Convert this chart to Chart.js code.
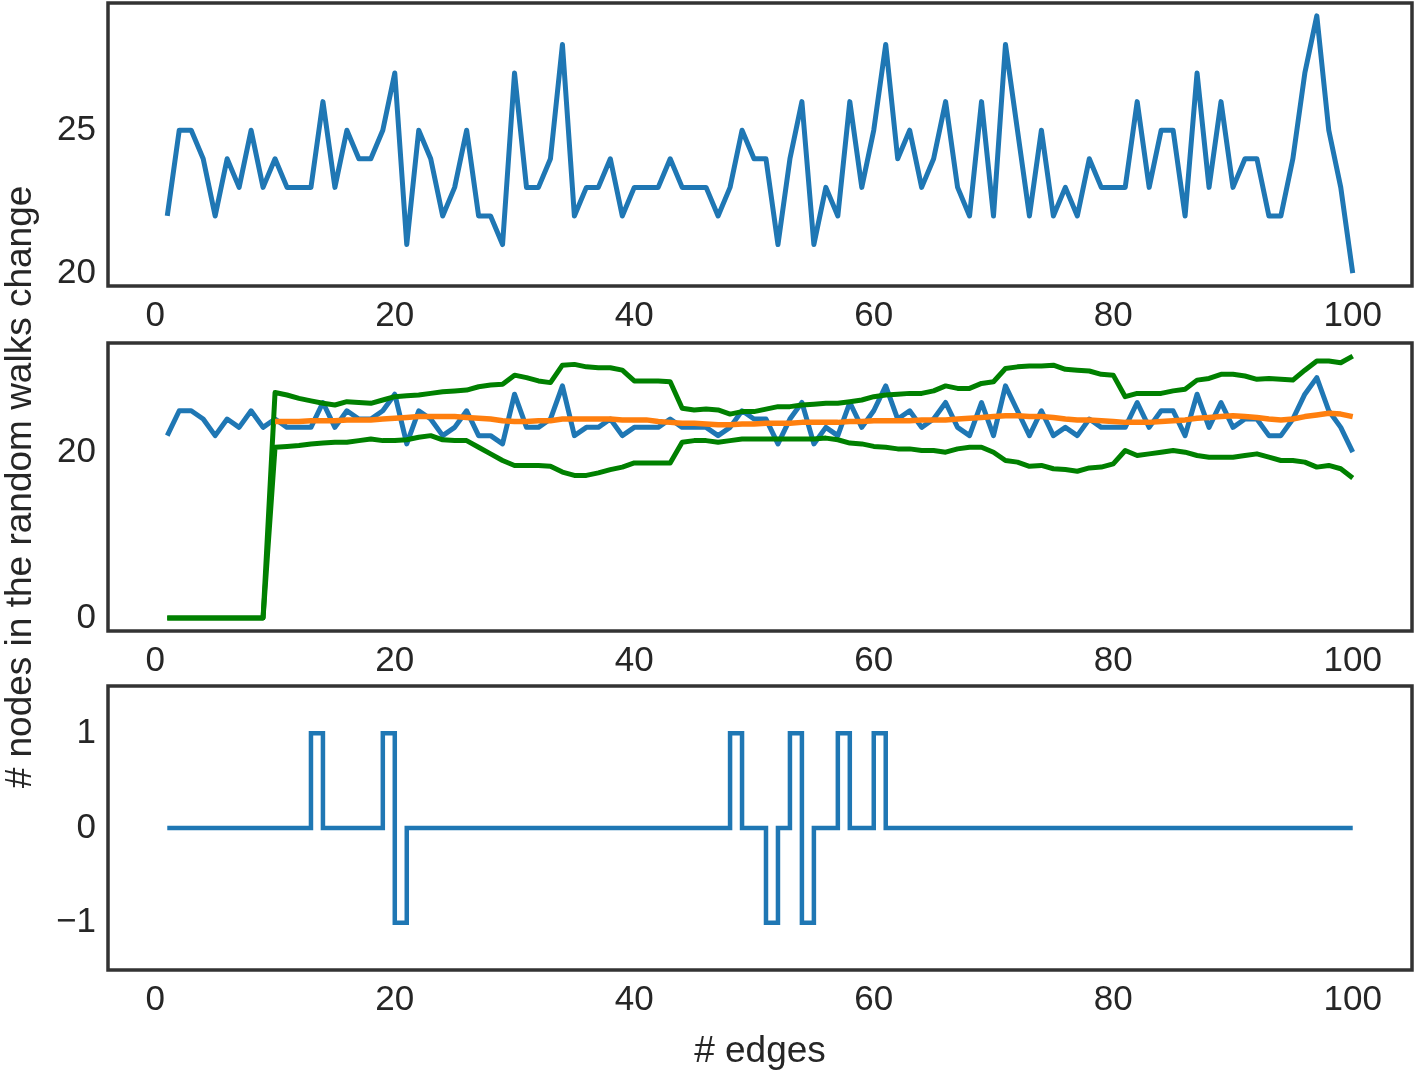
<!DOCTYPE html>
<html>
<head>
<meta charset="utf-8">
<script src="https://cdn.jsdelivr.net/npm/chart.js@4.4.1/dist/chart.umd.min.js"></script>
<style>
  html, body { margin: 0; padding: 0; background: #fff; }
  #wrap { position: relative; width: 1415px; height: 1076px; }
  #wrap canvas { position: absolute; left: 0; top: 0; }
</style>
</head>
<body>
<div id="wrap">
  <canvas id="topPanel" width="1415" height="1076"></canvas>
  <canvas id="midPanel" width="1415" height="1076"></canvas>
  <canvas id="bottomPanel" width="1415" height="1076"></canvas>
</div>
<script>
// x axis: number of edges added
const edges = Array.from({ length: 100 }, (_, i) => i + 1);
const xTicks = [0, 20, 40, 60, 80, 100];

// nodes in the random walks that change, per edge
const walkChange = [
  22, 25, 25, 24, 22, 24, 23, 25, 23, 24,
  23, 23, 23, 26, 23, 25, 24, 24, 25, 27,
  21, 25, 24, 22, 23, 25, 22, 22, 21, 27,
  23, 23, 24, 28, 22, 23, 23, 24, 22, 23,
  23, 23, 24, 23, 23, 23, 22, 23, 25, 24,
  24, 21, 24, 26, 21, 23, 22, 26, 23, 25,
  28, 24, 25, 23, 24, 26, 23, 22, 26, 22,
  28, 25, 22, 25, 22, 23, 22, 24, 23, 23,
  23, 26, 23, 25, 25, 22, 27, 23, 26, 23,
  24, 24, 22, 22, 24, 27, 29, 25, 23, 20
];

// rolling mean (no value for the first 9 edges)
const meanChange = [
  null, null, null, null, null, null, null, null, null, 23.7,
  23.7, 23.7, 23.8, 23.8, 23.8, 23.9, 23.9, 23.9, 24.0, 24.1,
  24.2, 24.3, 24.3, 24.3, 24.3, 24.2, 24.1, 24.0, 23.8, 23.7,
  23.7, 23.8, 23.8, 24.0, 24.0, 24.0, 24.0, 24.0, 23.9, 23.9,
  23.9, 23.7, 23.6, 23.5, 23.5, 23.4, 23.3, 23.3, 23.4, 23.4,
  23.5, 23.5, 23.5, 23.6, 23.6, 23.6, 23.6, 23.7, 23.7, 23.8,
  23.8, 23.8, 23.8, 23.9, 23.9, 23.9, 24.0, 24.1, 24.2, 24.3,
  24.4, 24.4, 24.3, 24.3, 24.2, 24.0, 23.9, 23.9, 23.8, 23.7,
  23.6, 23.6, 23.6, 23.7, 23.8, 23.9, 24.1, 24.2, 24.3, 24.4,
  24.3, 24.2, 24.0, 23.9, 24.0, 24.3, 24.5, 24.7, 24.6, 24.3
];

// upper / lower bounds of the band
const upperBand = [
  0, 0, 0, 0, 0, 0, 0, 0, 0, 27.2,
  26.9, 26.5, 26.2, 25.9, 25.7, 26.1, 26.0, 25.9, 26.3, 26.7,
  26.8, 26.9, 27.1, 27.3, 27.4, 27.5, 27.9, 28.1, 28.2, 29.3,
  29.0, 28.6, 28.4, 30.5, 30.6, 30.3, 30.2, 30.2, 29.9, 28.6,
  28.6, 28.6, 28.5, 25.3, 25.1, 25.2, 25.1, 24.6, 24.9, 24.9,
  25.2, 25.5, 25.5, 25.7, 25.8, 25.9, 25.9, 26.1, 26.3, 26.7,
  26.9, 27.0, 27.1, 27.1, 27.4, 28.0, 27.7, 27.7, 28.3, 28.5,
  30.1, 30.3, 30.4, 30.4, 30.5, 30.0, 29.9, 29.8, 29.4, 29.3,
  26.7, 27.1, 27.1, 27.1, 27.4, 27.6, 28.7, 28.9, 29.4, 29.4,
  29.2, 28.8, 28.9, 28.8, 28.7, 29.9, 31.0, 31.0, 30.8, 31.6
];
const lowerBand = [
  0, 0, 0, 0, 0, 0, 0, 0, 0, 20.6,
  20.7, 20.8, 21.0, 21.1, 21.2, 21.2, 21.4, 21.6, 21.4, 21.4,
  21.5, 21.8, 22.0, 21.5, 21.4, 21.4, 20.6, 19.8, 19.0, 18.4,
  18.4, 18.4, 18.3, 17.6, 17.2, 17.2, 17.5, 17.9, 18.2, 18.7,
  18.7, 18.7, 18.7, 21.2, 21.4, 21.4, 21.2, 21.4, 21.6, 21.6,
  21.6, 21.6, 21.6, 21.6, 21.6, 21.7, 21.5, 21.1, 21.0, 20.7,
  20.6, 20.4, 20.4, 20.2, 20.2, 20.0, 20.4, 20.6, 20.6, 20.0,
  19.0, 18.8, 18.3, 18.4, 18.0, 17.9, 17.7, 18.1, 18.2, 18.6,
  20.2, 19.6, 19.8, 20.0, 20.2, 20.0, 19.6, 19.4, 19.4, 19.4,
  19.6, 19.8, 19.4, 19.0, 19.0, 18.8, 18.2, 18.4, 18.0, 16.9
];

// outlier flag (-1 / 0 / 1), held until the next edge
const flagChange = [
  0, 0, 0, 0, 0, 0, 0, 0, 0, 0,
  0, 0, 1, 0, 0, 0, 0, 0, 1, -1,
  0, 0, 0, 0, 0, 0, 0, 0, 0, 0,
  0, 0, 0, 0, 0, 0, 0, 0, 0, 0,
  0, 0, 0, 0, 0, 0, 0, 1, 0, 0,
  -1, 0, 1, -1, 0, 0, 1, 0, 0, 1,
  0, 0, 0, 0, 0, 0, 0, 0, 0, 0,
  0, 0, 0, 0, 0, 0, 0, 0, 0, 0,
  0, 0, 0, 0, 0, 0, 0, 0, 0, 0,
  0, 0, 0, 0, 0, 0, 0, 0, 0, 0
];

const topTicks = [20, 25];
const midTicks = [0, 20];
const bottomTicks = [-1, 0, 1];

const BLUE = '#1f77b4';
const ORANGE = '#ff7f0e';
const GREEN = '#008000';

Chart.defaults.font.family = '"Liberation Sans", Arial, sans-serif';
Chart.defaults.font.size = 35;
Chart.defaults.color = '#262626';

const titleFont = { size: 37, lineHeight: 1.1 };

// box around each plot area, like matplotlib spines
const frame = {
  id: 'frame',
  afterDatasetsDraw(chart) {
    const { ctx, chartArea: a } = chart;
    ctx.save();
    ctx.strokeStyle = '#333';
    ctx.lineWidth = 3.5;
    ctx.strokeRect(a.left, a.top, a.right - a.left, a.bottom - a.top);
    ctx.restore();
  }
};

const minus = v => String(v).replace('-', '\u2212');

function panel(id, box, datasets, yMin, yMax, yTicks, yTitle, xTitle, xHeight) {
  return new Chart(document.getElementById(id), {
    type: 'line',
    data: { labels: edges, datasets },
    plugins: [frame],
    options: {
      responsive: false,
      animation: false,
      events: [],
      layout: {
        padding: { left: 0, right: 1415 - box.right, top: box.top, bottom: 1076 - box.bottom - xHeight }
      },
      elements: {
        point: { radius: 0 },
        line: { tension: 0, fill: false, borderJoinStyle: 'round' }
      },
      plugins: { legend: { display: false }, tooltip: { enabled: false } },
      scales: {
        x: {
          type: 'linear',
          min: -3.95,
          max: 104.95,
          bounds: 'data',
          grid: { display: false, drawTicks: false },
          border: { display: false },
          ticks: { padding: 9, autoSkip: false, maxRotation: 0, callback: minus },
          title: { display: !!xTitle, text: xTitle, padding: 0, font: titleFont },
          afterBuildTicks: s => { s.ticks = xTicks.map(v => ({ value: v })); },
          afterFit: s => { s.height = xHeight; s.paddingLeft = 0; s.paddingRight = 0; }
        },
        y: {
          min: yMin,
          max: yMax,
          bounds: 'data',
          grid: { display: false, drawTicks: false },
          border: { display: false },
          ticks: { padding: 12, autoSkip: false, callback: minus },
          title: { display: !!yTitle, text: yTitle, padding: 0, font: titleFont },
          afterBuildTicks: s => { s.ticks = yTicks.map(v => ({ value: v })); },
          afterFit: s => { s.width = box.left; s.paddingTop = 0; s.paddingBottom = 0; }
        }
      }
    }
  });
}

panel('topPanel', { left: 108, right: 1412, top: 3, bottom: 286 },
  [{ data: walkChange, borderColor: BLUE, borderWidth: 5 }],
  19.55, 29.45, topTicks, '', '', 60);

panel('midPanel', { left: 108, right: 1412, top: 343, bottom: 631 },
  [
    { data: meanChange, borderColor: ORANGE, borderWidth: 5.5, order: 1 },
    { data: upperBand, borderColor: GREEN, borderWidth: 5, order: 2 },
    { data: lowerBand, borderColor: GREEN, borderWidth: 5, order: 2 },
    { data: walkChange, borderColor: BLUE, borderWidth: 5, order: 3 }
  ],
  -1.58, 33.18, midTicks, '# nodes in the random walks change', '', 60);

panel('bottomPanel', { left: 108, right: 1412, top: 686, bottom: 970 },
  [{ data: flagChange, borderColor: BLUE, borderWidth: 4.5, stepped: 'before', borderJoinStyle: 'miter' }],
  -1.5, 1.5, bottomTicks, '', '# edges', 102);
</script>
</body>
</html>
